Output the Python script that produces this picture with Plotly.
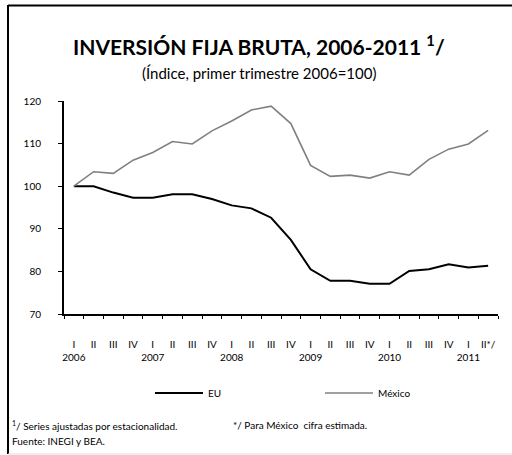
import plotly.graph_objects as go

# Quarterly gross fixed investment index (Q1 2006 = 100), seasonally adjusted
quarters = ["I", "II", "III", "IV"] * 5 + ["I", "II*/"]
years = ["2006", "2007", "2008", "2009", "2010", "2011"]

eu = [100.0, 100.0, 98.5, 97.3, 97.3, 98.1, 98.1, 97.0,
      95.5, 94.8, 92.6, 87.4, 80.5, 77.8, 77.8, 77.1,
      77.1, 80.1, 80.5, 81.7, 80.9, 81.3]
mexico = [100.0, 103.4, 103.0, 106.1, 107.9, 110.5, 109.9, 113.0,
          115.3, 117.9, 118.8, 114.7, 104.9, 102.3, 102.6, 101.9,
          103.4, 102.6, 106.3, 108.7, 109.9, 113.1]

y_ticks = [70, 80, 90, 100, 110, 120]

FONT = "Lato"
W, H = 512, 455
L, R, T, B = 64, 14, 101, 141
PW, PH = W - L - R, H - T - B


def xp(px):
    return (px - L) / PW


def yp(py):
    return (H - B - py) / PH


idx = list(range(len(eu)))
ticktext = []
for i, q in enumerate(quarters):
    if i % 4 == 0:
        ticktext.append(q + "<br>" + years[i // 4])
    else:
        ticktext.append(q)

fig = go.Figure()
fig.add_trace(go.Scatter(x=idx, y=eu, mode="lines", name="EU",
                         line=dict(color="black", width=2), legend="legend"))
fig.add_trace(go.Scatter(x=idx, y=mexico, mode="lines", name="México",
                         line=dict(color="#808080", width=1.6), legend="legend2"))

legend_common = dict(orientation="h", xanchor="left", yanchor="middle",
                     itemwidth=48, font=dict(size=10, family=FONT),
                     bgcolor="rgba(0,0,0,0)")
fig.update_layout(
    width=W, height=H,
    margin=dict(l=L, r=R, t=T, b=B),
    paper_bgcolor="white", plot_bgcolor="white",
    font=dict(family=FONT, size=10, color="black"),
    showlegend=True,
    legend=dict(x=xp(150), y=yp(393), **legend_common),
    legend2=dict(x=xp(320), y=yp(393), **legend_common),
)

fig.update_xaxes(
    range=[-0.5, len(eu) - 0.5],
    tickmode="array", tickvals=idx, ticktext=ticktext,
    ticks="", ticklabelstandoff=20, tickangle=0,
    tickfont=dict(size=10, family=FONT),
    showgrid=False, zeroline=False,
    showline=True, linecolor="black", linewidth=2,
    minor=dict(tickmode="array", tickvals=[i - 0.5 for i in range(len(eu) + 1)],
               ticks="outside", ticklen=3, tickcolor="black", tickwidth=1,
               showgrid=False),
)
fig.update_yaxes(
    range=[70, 120], tickvals=y_ticks,
    ticks="outside", ticklen=4, tickcolor="black", tickwidth=1,
    ticklabelstandoff=15,
    tickfont=dict(size=10, family=FONT),
    showgrid=False, zeroline=False,
    showline=True, linecolor="black", linewidth=2,
)

annotations = [
    dict(text="<b>INVERSIÓN FIJA BRUTA, 2006-2011 <sup>1</sup>/</b>",
         x=xp(259), y=yp(45), font=dict(size=21, family=FONT)),
    dict(text="(Índice, primer trimestre 2006=100)",
         x=xp(259), y=yp(73), font=dict(size=15, family=FONT)),
    dict(text="<sup>1</sup>/ Series ajustadas por estacionalidad.",
         x=xp(10), y=yp(425), xanchor="left", font=dict(size=10, family=FONT)),
    dict(text="*/ Para México  cifra estimada.",
         x=xp(231), y=yp(425), xanchor="left", font=dict(size=10, family=FONT)),
    dict(text="Fuente: INEGI y BEA.",
         x=xp(10), y=yp(441), xanchor="left", font=dict(size=10, family=FONT)),
]
for a in annotations:
    a.update(xref="paper", yref="paper", showarrow=False,
             yanchor="middle", xanchor=a.get("xanchor", "center"))
fig.update_layout(annotations=annotations)

# Outer frame: black top and left edges, faint bottom edge
fig.add_shape(type="line", xref="paper", yref="paper",
              x0=xp(8), x1=xp(520), y0=yp(5.5), y1=yp(5.5),
              line=dict(color="black", width=2))
fig.add_shape(type="line", xref="paper", yref="paper",
              x0=xp(8), x1=xp(8), y0=yp(5), y1=yp(454),
              line=dict(color="black", width=2))
fig.add_shape(type="line", xref="paper", yref="paper",
              x0=xp(8), x1=xp(520), y0=yp(454), y1=yp(454),
              line=dict(color="#dddddd", width=1))

fig.write_html("out.html")
